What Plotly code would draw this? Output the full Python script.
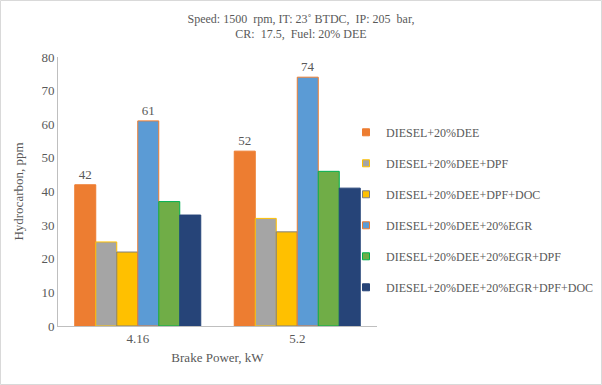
import plotly.graph_objects as go

categories = ["4.16", "5.2"]
series_names = [
    "DIESEL+20%DEE",
    "DIESEL+20%DEE+DPF",
    "DIESEL+20%DEE+DPF+DOC",
    "DIESEL+20%DEE+20%EGR",
    "DIESEL+20%DEE+20%EGR+DPF",
    "DIESEL+20%DEE+20%EGR+DPF+DOC",
]
s1 = [42, 52]
s2 = [25, 32]
s3 = [22, 28]
s4 = [61, 74]
s5 = [37, 46]
s6 = [33, 41]
values = [s1, s2, s3, s4, s5, s6]
show_labels = [True, False, False, True, False, False]

fills = ["#ED7D31", "#A5A5A5", "#FFC000", "#5B9BD5", "#70AD47", "#264478"]
outlines = ["#ED7D31", "#FFC000", "#7F7F7F", "#ED7D31", "#00B050", "#264478"]

font = "Liberation Serif, Times New Roman, serif"
fig = go.Figure()
for i, (name, vals) in enumerate(zip(series_names, values)):
    fig.add_trace(go.Bar(
        x=categories, y=vals, name=name,
        marker=dict(color=fills[i], line=dict(color=outlines[i], width=1)),
        text=[str(v) for v in vals] if show_labels[i] else None,
        textposition="outside",
        textfont=dict(family=font, size=13, color="#595959"),
        cliponaxis=False, showlegend=False,
    ))
# legend entries (small square swatches like the reference)
for i, name in enumerate(series_names):
    fig.add_trace(go.Scatter(
        x=[None], y=[None], mode="markers", name=name,
        marker=dict(symbol="square", size=7, color=fills[i],
                    line=dict(color=outlines[i], width=1)),
        legendgroup=str(i),
    ))

W, H = 602, 385
L, R, T, B = 58, 10, 57, 59
pw, ph = W - L - R, H - T - B
axis_right = 377

fig.update_layout(
    width=W, height=H,
    margin=dict(l=L, r=R, t=T, b=B, autoexpand=False),
    paper_bgcolor="white", plot_bgcolor="white",
    barmode="group", bargap=0.21, bargroupgap=0,
    font=dict(family=font, size=12, color="#595959"),
    title=dict(text="Speed: 1500  rpm, IT: 23˚ BTDC,  IP: 205  bar,<br>CR:  17.5,  Fuel: 20% DEE",
               x=0.5, xref="container", xanchor="center", y=0.9407, yanchor="middle",
               font=dict(family=font, size=12, color="#595959")),
    xaxis=dict(domain=[0, (axis_right - L) / pw], automargin=False,
               showline=True, linecolor="#BFBFBF", linewidth=1, ticks="",
               title=dict(text="Brake Power, kW", font=dict(size=13), standoff=8),
               tickfont=dict(size=13)),
    yaxis=dict(range=[0, 80], dtick=10, showgrid=False, showline=True, automargin=False,
               linecolor="#BFBFBF", linewidth=1, ticks="", zeroline=False,
               title=dict(text="Hydrocarbon, ppm", font=dict(size=13), standoff=14),
               tickfont=dict(size=13)),
    legend=dict(x=(346 - L) / pw, xanchor="left", y=0.432, yanchor="middle",
                bgcolor="rgba(0,0,0,0)",
                font=dict(family=font, size=12, color="#595959"),
                tracegroupgap=12, itemwidth=30, traceorder="grouped"),
    shapes=[dict(type="rect", xref="paper", yref="paper",
                 x0=-(L - 0.5) / pw, x1=(W - L - 0.5) / pw,
                 y0=-(B - 0.5) / ph, y1=(H - B - 0.5) / ph,
                 line=dict(color="#D9D9D9", width=1), fillcolor="rgba(0,0,0,0)",
                 layer="below")],
)
fig.write_html("out.html", config={"displayModeBar": False},
               post_script="document.body.style.margin='0';document.body.style.overflow='hidden';")
